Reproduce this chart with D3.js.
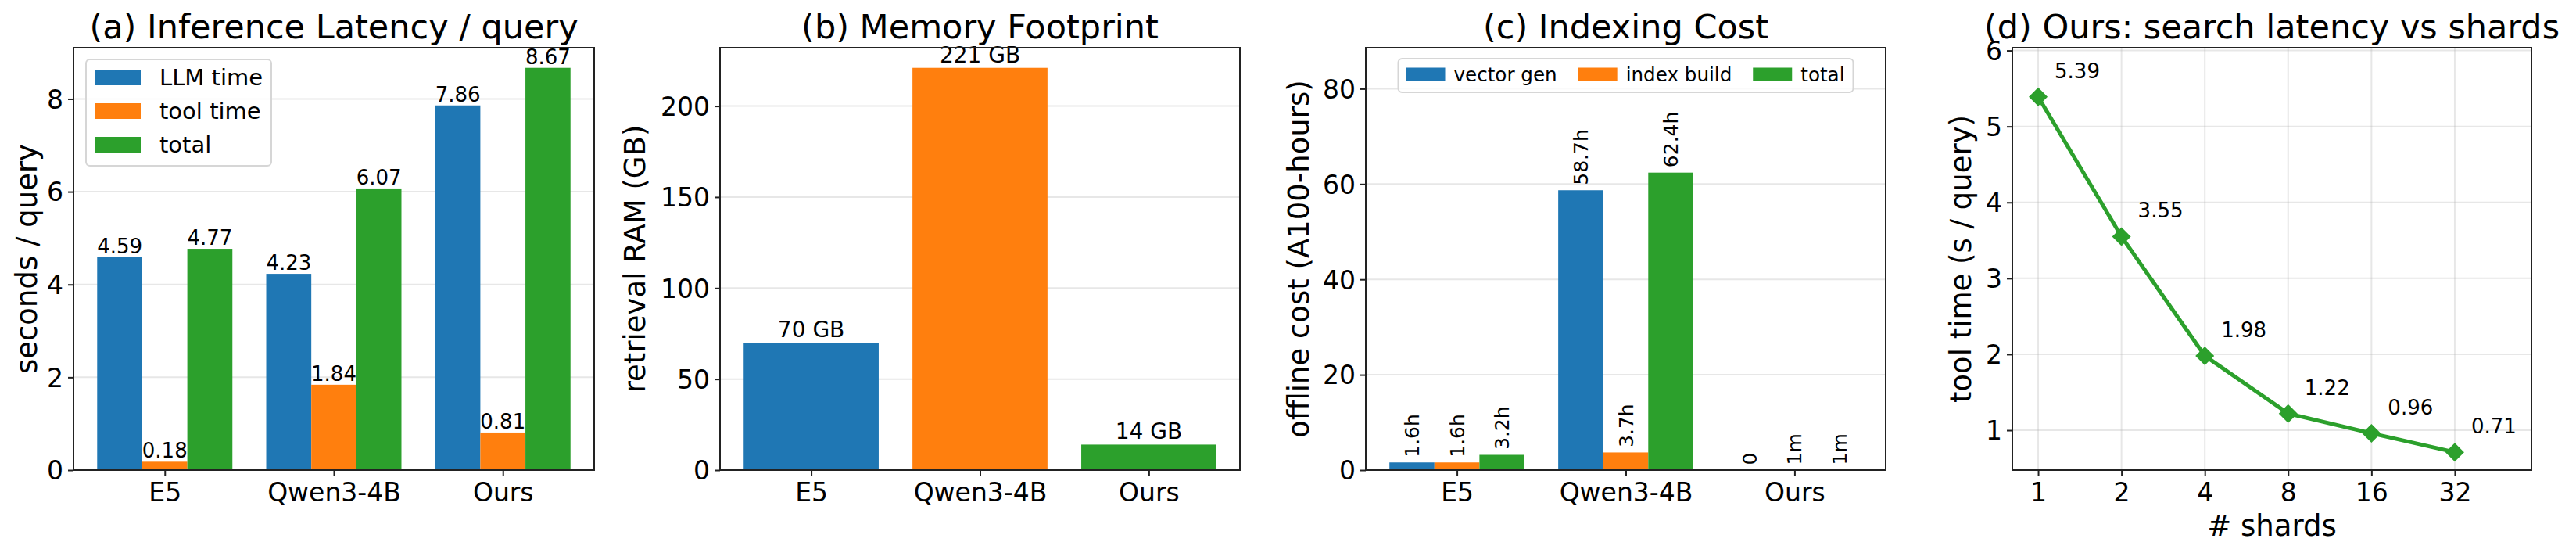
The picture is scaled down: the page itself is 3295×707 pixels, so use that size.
<!DOCTYPE html>
<html lang="en">
  <head>
    <meta charset="utf-8">
    <title>Efficiency panels</title>
    <script src="https://cdn.jsdelivr.net/npm/d3@7"></script>
    <style>
      body { margin: 0; background: #fff; }
      text { font-family: "DejaVu Sans", sans-serif; fill: #000; }
    </style>
  </head>
  <body>
    <script>

      // ---- data ----
      var methods = ["E5", "Qwen3-4B", "Ours"];

      var latSeries = ["LLM time", "tool time", "total"];
      var llmTime = [4.59, 4.23, 7.86];
      var toolTime = [0.18, 1.84, 0.81];
      var totalTime = [4.77, 6.07, 8.67];

      var ramGB = [70, 221, 14];
      var ramLabels = ["70 GB", "221 GB", "14 GB"];

      var costSeries = ["vector gen", "index build", "total"];
      var vecGen = [1.6, 58.7, 0];
      var idxBuild = [1.6, 3.7, 1 / 60];
      var costTotal = [3.2, 62.4, 1 / 60];
      var vecGenLabels = ["1.6h", "58.7h", "0"];
      var idxBuildLabels = ["1.6h", "3.7h", "1m"];
      var costTotalLabels = ["3.2h", "62.4h", "1m"];

      var shards = ["1", "2", "4", "8", "16", "32"];
      var shardTool = [5.39, 3.55, 1.98, 1.22, 0.96, 0.71];

      var colors = ["#1f77b4", "#ff7f0e", "#2ca02c"];

      var svg = d3.select("body").append("svg")
                  .attr("width", 3295)
                  .attr("height", 707);
      svg.append("rect").attr("width", 3295).attr("height", 707).attr("fill", "#fff");

      var Y0 = 61, Y1 = 601;

      // draws grid, ticks, title, ylabel; returns the group
      function panel(x0, x1, ymax, yticks, title, ylabel, ylabX, ymin) {
        var g = svg.append("g");
        var y = d3.scaleLinear().domain([ymin || 0, ymax]).range([Y1, Y0]);
        g.selectAll(".hgrid").data(yticks).enter().append("line")
          .attr("x1", x0).attr("x2", x1)
          .attr("y1", function(d) { return y(d); }).attr("y2", function(d) { return y(d); })
          .attr("stroke", "#b0b0b0").attr("stroke-opacity", 0.3).attr("stroke-width", 2);
        var ax = g.append("g").attr("transform", "translate(" + x0 + ",0)")
          .call(d3.axisLeft(y).tickValues(yticks).tickSize(7).tickPadding(6).tickFormat(d3.format("d")));
        ax.select(".domain").remove();
        ax.selectAll("line").attr("stroke", "#222").attr("stroke-width", 2);
        ax.selectAll("text").attr("font-size", 33).attr("font-family", "DejaVu Sans").attr("dy", "0.36em");
        g.append("text").attr("x", (x0 + x1) / 2).attr("y", 49)
          .attr("text-anchor", "middle").attr("font-size", 43).text(title);
        g.append("text").attr("transform", "translate(" + ylabX + "," + ((Y0 + Y1) / 2) + ") rotate(-90)")
          .attr("text-anchor", "middle").attr("font-size", 37).text(ylabel);
        return { g: g, y: y };
      }

      function frame(g, x0, x1) {
        g.append("rect").attr("x", x0).attr("y", Y0).attr("width", x1 - x0).attr("height", Y1 - Y0)
          .attr("fill", "none").attr("stroke", "#222").attr("stroke-width", 2);
      }

      function catAxis(g, x, labels, positions) {
        var ax = g.append("g").attr("transform", "translate(0," + Y1 + ")")
          .call(d3.axisBottom(x).tickValues(positions).tickSize(7).tickPadding(8)
                .tickFormat(function(d, i) { return labels[i]; }));
        ax.select(".domain").remove();
        ax.selectAll("line").attr("stroke", "#222").attr("stroke-width", 2);
        ax.selectAll("text").attr("font-size", 33).attr("font-family", "DejaVu Sans").attr("dy", "0.75em");
      }

      // ---------- (a) latency ----------
      (function() {
        var x0 = 94, x1 = 760;
        var p = panel(x0, x1, 8.67 * 1.05, [0, 2, 4, 6, 8], "(a) Inference Latency / query", "seconds / query", 47);
        var x = d3.scaleLinear().domain([-0.54, 2.54]).range([x0, x1]);
        var w = 0.8 / 3;
        var series = [llmTime, toolTime, totalTime];
        series.forEach(function(vals, s) {
          var off = (s - 1) * w;
          p.g.selectAll(".bar" + s).data(vals).enter().append("rect")
            .attr("x", function(d, i) { return x(i + off - w / 2); })
            .attr("width", x(w) - x(0))
            .attr("y", function(d) { return p.y(d); })
            .attr("height", function(d) { return Y1 - p.y(d); })
            .attr("fill", colors[s]);
          p.g.selectAll(".lab" + s).data(vals).enter().append("text")
            .attr("x", function(d, i) { return x(i + off); })
            .attr("y", function(d) { return p.y(d) - 5; })
            .attr("text-anchor", "middle").attr("font-size", 26)
            .text(function(d) { return d.toFixed(2); });
        });
        frame(p.g, x0, x1);
        catAxis(p.g, x, methods, [0, 1, 2]);
        // legend
        var lg = p.g.append("g");
        lg.append("rect").attr("x", 110).attr("y", 76).attr("width", 237).attr("height", 136)
          .attr("rx", 5).attr("fill", "#fff").attr("fill-opacity", 0.8)
          .attr("stroke", "#d6d6d6").attr("stroke-width", 2);
        latSeries.forEach(function(name, i) {
          var cy = 99 + i * 43;
          lg.append("rect").attr("x", 122).attr("y", cy - 10).attr("width", 58).attr("height", 20).attr("fill", colors[i]);
          lg.append("text").attr("x", 204).attr("y", cy).attr("dy", "0.36em").attr("font-size", 29).text(name);
        });
      })();

      // ---------- (b) memory ----------
      (function() {
        var x0 = 921, x1 = 1586;
        var p = panel(x0, x1, 221 * 1.05, [0, 50, 100, 150, 200], "(b) Memory Footprint", "retrieval RAM (GB)", 825);
        var x = d3.scaleLinear().domain([-0.54, 2.54]).range([x0, x1]);
        p.g.selectAll(".bar").data(ramGB).enter().append("rect")
          .attr("x", function(d, i) { return x(i - 0.4); })
          .attr("width", x(0.8) - x(0))
          .attr("y", function(d) { return p.y(d); })
          .attr("height", function(d) { return Y1 - p.y(d); })
          .attr("fill", function(d, i) { return colors[i]; });
        p.g.selectAll(".lab").data(ramGB).enter().append("text")
          .attr("x", function(d, i) { return x(i); })
          .attr("y", function(d) { return p.y(d) - 7; })
          .attr("text-anchor", "middle").attr("font-size", 28)
          .text(function(d, i) { return ramLabels[i]; });
        frame(p.g, x0, x1);
        catAxis(p.g, x, methods, [0, 1, 2]);
      })();

      // ---------- (c) indexing cost ----------
      (function() {
        var x0 = 1747, x1 = 2412;
        var p = panel(x0, x1, 88.6, [0, 20, 40, 60, 80], "(c) Indexing Cost", "offline cost (A100-hours)", 1674);
        var x = d3.scaleLinear().domain([-0.54, 2.54]).range([x0, x1]);
        var w = 0.8 / 3;
        var series = [vecGen, idxBuild, costTotal];
        var labels = [vecGenLabels, idxBuildLabels, costTotalLabels];
        series.forEach(function(vals, s) {
          var off = (s - 1) * w;
          p.g.selectAll(".bar" + s).data(vals).enter().append("rect")
            .attr("x", function(d, i) { return x(i + off - w / 2); })
            .attr("width", x(w) - x(0))
            .attr("y", function(d) { return p.y(d); })
            .attr("height", function(d) { return Y1 - p.y(d); })
            .attr("fill", colors[s]);
          p.g.selectAll(".lab" + s).data(vals).enter().append("text")
            .attr("transform", function(d, i) {
              return "translate(" + x(i + off) + "," + (p.y(d) - 6.5) + ") rotate(-90)";
            })
            .attr("dy", "0.36em").attr("font-size", 25)
            .text(function(d, i) { return labels[s][i]; });
        });
        frame(p.g, x0, x1);
        catAxis(p.g, x, methods, [0, 1, 2]);
        // legend, one row centred at the top
        var lg = p.g.append("g");
        var box = lg.append("rect").attr("y", 75).attr("height", 43).attr("rx", 5)
          .attr("fill", "#fff").attr("fill-opacity", 0.8).attr("stroke", "#d6d6d6").attr("stroke-width", 2);
        var cx = 10, cy = 95;
        costSeries.forEach(function(name, i) {
          lg.append("rect").attr("x", cx).attr("y", cy - 8.5).attr("width", 50).attr("height", 17).attr("fill", colors[i]);
          var t = lg.append("text").attr("x", cx + 61).attr("y", cy).attr("dy", "0.36em").attr("font-size", 24.6).text(name);
          cx += 61 + t.node().getComputedTextLength() + (i < 2 ? 27 : 11);
        });
        var left = (x0 + x1) / 2 - cx / 2;
        lg.attr("transform", "translate(" + left + ",0)");
        box.attr("x", 0).attr("width", cx);
      })();

      // ---------- (d) shards ----------
      (function() {
        var x0 = 2574, x1 = 3238;
        var p = panel(x0, x1, 5.39 * 1.12, [1, 2, 3, 4, 5, 6], "(d) Ours: search latency vs shards", "tool time (s / query)", 2521, 0.475);
        var x = d3.scaleLinear().domain([-0.31, 5.92]).range([x0, x1]);
        var idx = d3.range(shards.length);
        p.g.selectAll(".vgrid").data(idx).enter().append("line")
          .attr("x1", function(d) { return x(d); }).attr("x2", function(d) { return x(d); })
          .attr("y1", Y0).attr("y2", Y1)
          .attr("stroke", "#b0b0b0").attr("stroke-opacity", 0.3).attr("stroke-width", 2);
        var line = d3.line().x(function(d, i) { return x(i); }).y(function(d) { return p.y(d); });
        p.g.append("path").datum(shardTool).attr("d", line)
          .attr("fill", "none").attr("stroke", colors[2]).attr("stroke-width", 5);
        p.g.selectAll(".mk").data(shardTool).enter().append("path")
          .attr("transform", function(d, i) { return "translate(" + x(i) + "," + p.y(d) + ")"; })
          .attr("d", "M0,-12L12,0L0,12L-12,0Z").attr("fill", colors[2]);
        p.g.selectAll(".lab").data(shardTool).enter().append("text")
          .attr("x", function(d, i) { return x(i) + 21; })
          .attr("y", function(d) { return p.y(d) - 24; })
          .attr("font-size", 26)
          .text(function(d) { return d.toFixed(2); });
        frame(p.g, x0, x1);
        catAxis(p.g, x, shards, idx);
        p.g.append("text").attr("x", (x0 + x1) / 2).attr("y", 685)
          .attr("text-anchor", "middle").attr("font-size", 37).text("# shards");
      })();

    </script>
  </body>
</html>
